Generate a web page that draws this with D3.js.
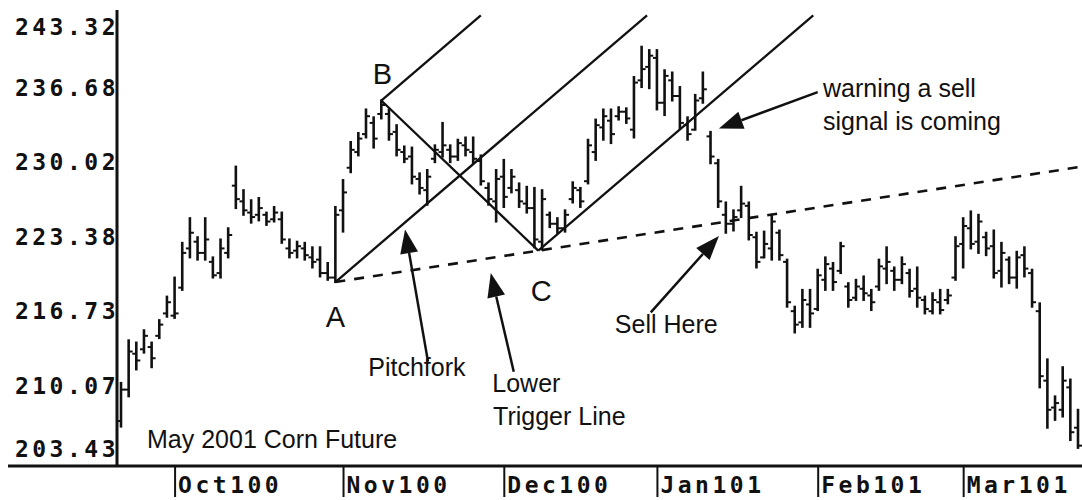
<!DOCTYPE html>
<html>
<head>
<meta charset="utf-8">
<script src="https://cdn.jsdelivr.net/npm/d3@7"></script>
<style>
  body { margin: 0; background: #fff; }
  svg { display: block; }
  .note { font-family: "Liberation Sans", Arial, sans-serif; font-size: 25px; fill: #111; }
  .pivot { font-family: "Liberation Sans", Arial, sans-serif; font-size: 29px; fill: #111; }
  .ax text { font-family: "DejaVu Sans Mono", monospace; font-weight: bold; font-size: 23px; letter-spacing: 3.5px; fill: #111; }
</style>
</head>
<body>
<div id="chart"></div>
<script>
// ---- data ----
// daily bars, Sep 2000 to Mar 2001 (index = trading day)
const highs = [210.4,214.2,214.0,215.1,214.0,216.0,218.1,219.8,222.9,225.1,
  223.4,225.1,221.6,223.2,224.2,229.7,227.6,226.7,226.9,225.6,
  226.1,225.6,223.2,223.0,222.9,222.5,222.5,221.1,226.1,228.5,
  231.9,232.7,234.8,234.1,235.6,234.8,233.4,231.5,231.4,229.1,
  229.4,231.6,233.6,231.6,232.1,232.3,232.3,230.7,228.2,229.4,
  230.3,229.4,228.2,227.9,227.8,227.6,225.6,225.1,225.8,228.3,
  227.8,232.1,233.9,234.8,234.8,235.0,234.9,237.7,240.4,240.1,
  240.1,238.3,238.1,236.8,234.1,236.1,238.1,232.8,230.3,226.5,
  225.8,227.9,226.5,223.8,223.9,225.4,224.0,221.4,217.2,218.7,
  218.7,220.5,221.6,221.1,222.9,219.3,219.6,219.9,218.7,221.4,
  222.5,220.7,221.6,220.5,220.7,218.1,218.4,218.7,218.7,223.4,
  225.1,225.7,225.4,223.8,224.0,222.9,221.6,222.1,222.5,220.5,
  217.5,212.5,209.2,211.8,210.7,208.0];
const lows = [206.5,209.2,211.6,213.1,211.8,214.4,216.3,216.2,218.7,221.6,
  221.4,221.4,219.8,219.8,221.6,226.0,225.4,224.7,224.9,224.5,
  224.8,222.9,221.6,221.6,221.4,220.7,219.9,219.6,219.4,223.9,
  229.2,230.7,232.3,231.4,234.0,232.1,230.7,230.1,228.2,227.3,
  226.3,230.1,230.6,230.1,230.3,230.7,230.0,228.1,226.3,224.8,
  226.1,227.4,226.1,225.6,222.5,222.3,224.3,223.8,223.9,226.5,
  226.1,228.2,230.3,232.1,231.8,233.9,233.6,232.3,236.8,236.7,
  234.8,234.3,235.6,233.1,232.1,233.0,235.4,230.0,226.1,223.8,
  224.0,225.2,223.2,220.7,221.6,221.4,221.4,217.2,214.9,215.4,
  215.4,216.9,218.7,218.7,220.2,217.2,217.8,217.8,216.9,218.7,
  219.3,218.7,219.3,218.1,217.2,216.6,216.6,216.6,217.5,219.6,
  220.7,222.4,222.0,221.8,219.8,219.0,219.3,218.9,219.9,217.2,
  210.0,206.4,207.1,207.4,205.3,204.6];
const opens = [207.0,209.8,213.0,213.4,213.6,214.6,216.6,216.4,218.9,222.4,
  223.0,222.0,221.2,220.2,222.0,228.0,226.6,225.6,225.4,225.4,
  225.0,225.0,222.4,222.2,222.4,221.6,221.4,220.2,219.8,225.8,
  229.6,231.0,232.6,233.6,234.4,234.4,232.8,231.0,230.6,228.6,
  227.6,230.4,231.0,231.2,230.6,231.6,231.0,230.2,227.8,226.6,
  228.8,227.8,227.6,226.4,226.0,223.0,225.4,224.6,224.2,226.8,
  227.6,228.4,231.0,233.2,233.8,234.2,234.6,233.0,237.4,238.6,
  239.4,235.4,237.4,236.0,233.4,233.0,235.8,232.4,230.0,225.4,
  224.6,225.8,226.2,223.4,221.6,222.4,223.8,221.2,216.8,215.8,
  217.4,217.0,219.6,220.6,220.4,219.0,218.0,218.8,218.2,219.0,
  220.6,220.4,219.6,220.2,218.8,217.8,216.8,217.6,217.8,219.8,
  222.8,224.2,223.0,223.4,222.6,220.4,221.4,219.8,221.8,220.2,
  216.8,210.6,208.2,208.0,210.0,206.4];
const closes = [209.8,213.2,212.4,214.6,212.6,215.6,217.6,216.6,222.0,223.8,
  222.0,223.2,220.0,222.4,223.6,226.8,225.8,225.2,226.0,224.8,
  225.6,223.2,222.0,222.6,221.8,221.2,220.2,219.8,225.4,227.4,
  231.2,232.2,234.2,232.2,235.2,232.6,231.2,230.4,228.8,227.8,
  228.8,231.2,231.6,230.6,231.8,231.2,230.4,228.4,226.8,228.6,
  227.0,228.8,226.6,226.0,223.2,226.8,224.6,224.2,225.4,227.8,
  226.6,231.6,233.4,234.2,232.6,234.6,234.0,237.2,238.4,239.6,
  235.4,237.8,236.0,233.6,232.6,235.6,236.6,230.6,226.6,224.6,
  225.2,226.4,223.6,221.2,222.8,224.8,221.8,217.6,215.6,217.8,
  216.6,220.0,221.0,219.4,222.6,217.8,219.0,218.4,217.6,220.8,
  221.2,219.6,221.0,218.6,218.0,217.0,217.8,216.9,218.2,222.6,
  224.4,222.8,224.8,222.4,220.2,222.0,219.8,221.6,220.6,217.6,
  211.0,208.0,208.6,210.6,206.0,204.8];

// axes
const yTicks = [203.43, 210.07, 216.73, 223.38, 230.02, 236.68, 243.32];
const monthIdx = [7, 29, 50, 70, 91, 110];
const monthLabels = ["Oct100", "Nov100", "Dec100", "Jan101", "Feb101", "Mar101"];

// pitchfork pivots A, B, C (bar index, price)
const pivotNames = ["A", "B", "C"];
const pivotIdx = [28, 34, 54.5];
const pivotPrice = [219.4, 235.6, 222.2];

// annotations (bar index, price)
const noteText = ["Pitchfork", "Lower", "Trigger Line", "Sell Here", "warning a sell", "signal is coming", "May 2001 Corn Future"];
const noteIdx = [32.3, 48.5, 48.6, 64.5, 91.7, 91.7, 3.4];
const notePrice = [211.0, 209.6, 206.65, 214.85, 235.9, 232.95, 204.6];
const arrowTipIdx = [37.1, 48.3, 78.1, 78.1];
const arrowTipPrice = [224.1, 220.2, 223.5, 233.1];
const arrowTailIdx = [40.1, 51.3, 69.2, 91.0];
const arrowTailPrice = [212.3, 211.4, 216.7, 236.35];

// ---- drawing ----
const width = 1082, height = 500;
const x = d3.scaleLinear().domain([0, 125]).range([121, 1078]);
const y = d3.scaleLinear().domain([203.43, 243.32]).range([461, 14]);

const svg = d3.select("#chart").append("svg")
    .attr("width", width)
    .attr("height", height);

// y axis labels (top and bottom pulled inside like the original)
const gy = svg.append("g").attr("class", "ax")
    .attr("transform", "translate(119,0)")
    .call(d3.axisLeft(y).tickValues(yTicks).tickSize(0).tickPadding(0).tickFormat(d3.format(".2f")));
gy.select(".domain").remove();
gy.selectAll(".tick").attr("transform", d => `translate(0,${Math.max(28, Math.min(450, y(d)))})`);

// x axis with month ticks below the baseline
const gx = svg.append("g").attr("class", "ax")
    .attr("transform", "translate(0,466)")
    .call(d3.axisBottom(x).tickValues(monthIdx).tickSize(31).tickFormat((d, i) => monthLabels[i]));
gx.select(".domain").remove();
gx.selectAll(".tick line").attr("stroke", "#111").attr("stroke-width", 2);
gx.selectAll(".tick text").attr("text-anchor", "start").attr("x", 3).attr("y", 27).attr("dy", 0);

// frame lines
svg.append("line").attr("x1", 117).attr("x2", 117).attr("y1", 10).attr("y2", 467)
    .attr("stroke", "#111").attr("stroke-width", 3);
svg.append("line").attr("x1", 8).attr("x2", width).attr("y1", 466).attr("y2", 466)
    .attr("stroke", "#111").attr("stroke-width", 3);

// OHLC bars
const bars = highs.map((h, i) => ({ i, h, l: lows[i], o: opens[i], c: closes[i] }));
const gb = svg.append("g").attr("stroke", "#111").attr("stroke-width", 2.6);
gb.selectAll(".hl").data(bars).enter().append("line")
    .attr("x1", d => x(d.i)).attr("x2", d => x(d.i))
    .attr("y1", d => y(d.h) - 1).attr("y2", d => y(d.l) + 1);
gb.selectAll(".op").data(bars).enter().append("line")
    .attr("x1", d => x(d.i) - 4).attr("x2", d => x(d.i))
    .attr("y1", d => y(d.o)).attr("y2", d => y(d.o))
    .attr("stroke-width", 2);
gb.selectAll(".cl").data(bars).enter().append("line")
    .attr("x1", d => x(d.i)).attr("x2", d => x(d.i) + 4)
    .attr("y1", d => y(d.c)).attr("y2", d => y(d.c))
    .attr("stroke-width", 2);

// pitchfork: median line from A through middle of B-C, tines parallel to it
const forkTop = 243.2;
const A = { i: pivotIdx[0], p: pivotPrice[0] };
const B = { i: pivotIdx[1], p: pivotPrice[1] };
const C = { i: pivotIdx[2], p: pivotPrice[2] };
const mid = { i: (B.i + C.i) / 2, p: (B.p + C.p) / 2 };
const slope = (mid.p - A.p) / (mid.i - A.i);
const tine = s => [[s.i, s.p], [s.i + (forkTop - s.p) / slope, forkTop]];
const line = d3.line().x(d => x(d[0])).y(d => y(d[1]));
const gf = svg.append("g").attr("fill", "none").attr("stroke", "#111").attr("stroke-width", 2.3);
[tine(A), tine(B), tine(C), [[B.i, B.p], [C.i, C.p]]].forEach(pts => {
    gf.append("path").attr("d", line(pts));
});

// lower trigger line: A through C, dashed to the right edge
const trigSlope = (C.p - A.p) / (C.i - A.i);
const trigEnd = 125.6;
gf.append("path")
    .attr("d", line([[A.i, A.p], [trigEnd, A.p + (trigEnd - A.i) * trigSlope]]))
    .attr("stroke-width", 2.6)
    .attr("stroke-dasharray", "10,9");

// pivot letters
const pivotDx = [0, 1, 3], pivotDy = [45, -17, 50];
pivotNames.forEach((n, k) => {
    svg.append("text").attr("class", "pivot")
        .attr("x", x(pivotIdx[k]) + pivotDx[k])
        .attr("y", y(pivotPrice[k]) + pivotDy[k])
        .attr("text-anchor", "middle")
        .text(n);
});

// notes
noteText.forEach((t, k) => {
    svg.append("text").attr("class", "note")
        .attr("x", x(noteIdx[k]))
        .attr("y", y(notePrice[k]))
        .text(t);
});

// arrows with solid heads
arrowTipIdx.forEach((ti, k) => {
    const tx = x(ti), ty = y(arrowTipPrice[k]);
    const sx = x(arrowTailIdx[k]), sy = y(arrowTailPrice[k]);
    const len = Math.hypot(tx - sx, ty - sy);
    const ux = (tx - sx) / len, uy = (ty - sy) / len;
    const bx = tx - ux * 24, by = ty - uy * 24;
    svg.append("line")
        .attr("x1", sx).attr("y1", sy).attr("x2", bx).attr("y2", by)
        .attr("stroke", "#111").attr("stroke-width", 2.5);
    svg.append("polygon")
        .attr("points", [[tx, ty], [bx - uy * 9, by + ux * 9], [bx + uy * 9, by - ux * 9]].join(" "))
        .attr("fill", "#111");
});
</script>
</body>
</html>
